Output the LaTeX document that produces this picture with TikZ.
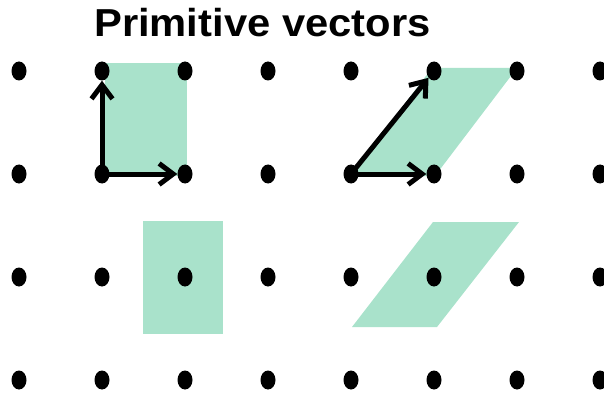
\documentclass[tikz,border=0pt]{standalone}
\usepackage{fontspec}
\setmainfont{Liberation Sans}
\newfontfamily\titlefont[FakeStretch=1.07]{Liberation Sans}
\usetikzlibrary{arrows.meta,shapes.geometric}
\definecolor{cellgreen}{RGB}{169,226,203}
\tikzset{
  site/.style={ellipse,fill=black,inner sep=0pt,minimum width=15pt,minimum height=19pt},
  vec/.style={line width=5pt,-{Straight Barb[length=14pt,width=21pt]}}
}
\begin{document}
\begin{tikzpicture}[x=1pt,y=1pt]
\useasboundingbox (0,0) rectangle (604,394);
\node[anchor=base west,inner sep=0pt,font=\titlefont\bfseries\fontsize{39}{39}\selectfont] (title) at (94,357) {Primitive vectors};
% unit cells
\fill[cellgreen] (105,218) rectangle (187,331);
\fill[cellgreen] (350,218) -- (435,218) -- (517,326) -- (432,326) -- cycle;
\fill[cellgreen] (143,60) rectangle (223,173);
\fill[cellgreen] (352,67) -- (437,67) -- (519,172) -- (433,172) -- cycle;
% lattice
\foreach \i in {0,...,7}
  \foreach \j in {0,...,3}
    \node[site] (d-\i-\j) at ({19+83*\i},{323-103*\j}) {};
% vectors
\draw[vec] (d-1-1.center) -- (d-1-0);
\draw[vec] (d-1-1.center) -- (d-2-1);
\draw[vec] (d-4-1.center) -- (d-5-0);
\draw[vec] (d-4-1.center) -- (d-5-1);
\end{tikzpicture}
\end{document}
